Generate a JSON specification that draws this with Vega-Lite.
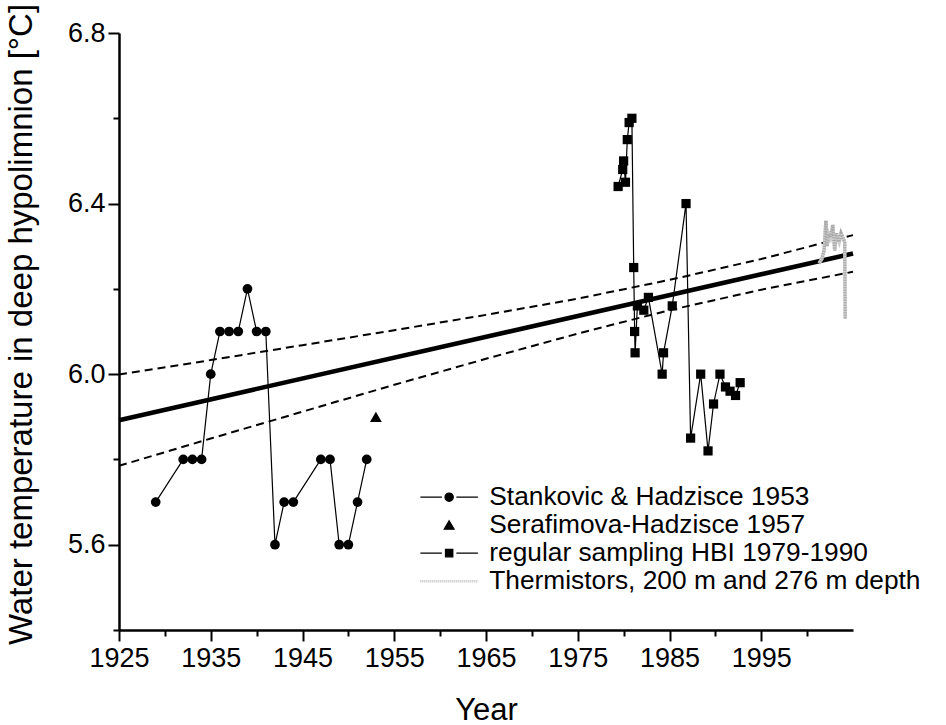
{
  "$schema": "https://vega.github.io/schema/vega-lite/v6.json",
  "width": 734,
  "height": 597,
  "autosize": {"type": "none"},
  "padding": {"left": 119, "top": 33, "right": 93, "bottom": 95},
  "background": "white",
  "config": {
    "view": {"stroke": null},
    "font": "Liberation Sans",
    "axis": {"grid": false, "domainColor": "black", "tickColor": "black", "labelColor": "black", "titleColor": "black", "titleFontWeight": "normal", "labelFont": "Liberation Sans", "titleFont": "Liberation Sans"}
  },
  "datasets": {
    "obs": [
      {"series": "Stankovic & Hadzisce 1953", "year": 1929, "temp": 5.7},
      {"series": "Stankovic & Hadzisce 1953", "year": 1932, "temp": 5.8},
      {"series": "Stankovic & Hadzisce 1953", "year": 1933, "temp": 5.8},
      {"series": "Stankovic & Hadzisce 1953", "year": 1934, "temp": 5.8},
      {"series": "Stankovic & Hadzisce 1953", "year": 1935, "temp": 6.0},
      {"series": "Stankovic & Hadzisce 1953", "year": 1936, "temp": 6.1},
      {"series": "Stankovic & Hadzisce 1953", "year": 1937, "temp": 6.1},
      {"series": "Stankovic & Hadzisce 1953", "year": 1938, "temp": 6.1},
      {"series": "Stankovic & Hadzisce 1953", "year": 1939, "temp": 6.2},
      {"series": "Stankovic & Hadzisce 1953", "year": 1940, "temp": 6.1},
      {"series": "Stankovic & Hadzisce 1953", "year": 1941, "temp": 6.1},
      {"series": "Stankovic & Hadzisce 1953", "year": 1942, "temp": 5.6},
      {"series": "Stankovic & Hadzisce 1953", "year": 1943, "temp": 5.7},
      {"series": "Stankovic & Hadzisce 1953", "year": 1944, "temp": 5.7},
      {"series": "Stankovic & Hadzisce 1953", "year": 1947, "temp": 5.8},
      {"series": "Stankovic & Hadzisce 1953", "year": 1948, "temp": 5.8},
      {"series": "Stankovic & Hadzisce 1953", "year": 1949, "temp": 5.6},
      {"series": "Stankovic & Hadzisce 1953", "year": 1950, "temp": 5.6},
      {"series": "Stankovic & Hadzisce 1953", "year": 1951, "temp": 5.7},
      {"series": "Stankovic & Hadzisce 1953", "year": 1952, "temp": 5.8},
      {"series": "Serafimova-Hadzisce 1957", "year": 1953, "temp": 5.9},
      {"series": "regular sampling HBI 1979-1990", "year": 1979.4, "temp": 6.44},
      {"series": "regular sampling HBI 1979-1990", "year": 1979.9, "temp": 6.48},
      {"series": "regular sampling HBI 1979-1990", "year": 1980.0, "temp": 6.5},
      {"series": "regular sampling HBI 1979-1990", "year": 1980.2, "temp": 6.45},
      {"series": "regular sampling HBI 1979-1990", "year": 1980.4, "temp": 6.55},
      {"series": "regular sampling HBI 1979-1990", "year": 1980.6, "temp": 6.59},
      {"series": "regular sampling HBI 1979-1990", "year": 1980.9, "temp": 6.6},
      {"series": "regular sampling HBI 1979-1990", "year": 1981.1, "temp": 6.25},
      {"series": "regular sampling HBI 1979-1990", "year": 1981.2, "temp": 6.1},
      {"series": "regular sampling HBI 1979-1990", "year": 1981.25, "temp": 6.05},
      {"series": "regular sampling HBI 1979-1990", "year": 1981.5, "temp": 6.16},
      {"series": "regular sampling HBI 1979-1990", "year": 1982.2, "temp": 6.15},
      {"series": "regular sampling HBI 1979-1990", "year": 1982.7, "temp": 6.18},
      {"series": "regular sampling HBI 1979-1990", "year": 1984.2, "temp": 6.0},
      {"series": "regular sampling HBI 1979-1990", "year": 1984.35, "temp": 6.05},
      {"series": "regular sampling HBI 1979-1990", "year": 1985.3, "temp": 6.16},
      {"series": "regular sampling HBI 1979-1990", "year": 1986.8, "temp": 6.4},
      {"series": "regular sampling HBI 1979-1990", "year": 1987.3, "temp": 5.85},
      {"series": "regular sampling HBI 1979-1990", "year": 1988.4, "temp": 6.0},
      {"series": "regular sampling HBI 1979-1990", "year": 1989.2, "temp": 5.82},
      {"series": "regular sampling HBI 1979-1990", "year": 1989.8, "temp": 5.93},
      {"series": "regular sampling HBI 1979-1990", "year": 1990.5, "temp": 6.0},
      {"series": "regular sampling HBI 1979-1990", "year": 1991.1, "temp": 5.97},
      {"series": "regular sampling HBI 1979-1990", "year": 1991.6, "temp": 5.96},
      {"series": "regular sampling HBI 1979-1990", "year": 1992.2, "temp": 5.95},
      {"series": "regular sampling HBI 1979-1990", "year": 1992.7, "temp": 5.98},
      {"series": "Thermistors, 200 m and 276 m depth", "year": 2001.3, "temp": 6.26},
      {"series": "Thermistors, 200 m and 276 m depth", "year": 2001.6, "temp": 6.27},
      {"series": "Thermistors, 200 m and 276 m depth", "year": 2001.85, "temp": 6.29},
      {"series": "Thermistors, 200 m and 276 m depth", "year": 2002.05, "temp": 6.36},
      {"series": "Thermistors, 200 m and 276 m depth", "year": 2002.15, "temp": 6.3},
      {"series": "Thermistors, 200 m and 276 m depth", "year": 2002.35, "temp": 6.33},
      {"series": "Thermistors, 200 m and 276 m depth", "year": 2002.55, "temp": 6.32},
      {"series": "Thermistors, 200 m and 276 m depth", "year": 2002.8, "temp": 6.35},
      {"series": "Thermistors, 200 m and 276 m depth", "year": 2003.0, "temp": 6.29},
      {"series": "Thermistors, 200 m and 276 m depth", "year": 2003.2, "temp": 6.33},
      {"series": "Thermistors, 200 m and 276 m depth", "year": 2003.5, "temp": 6.31},
      {"series": "Thermistors, 200 m and 276 m depth", "year": 2003.7, "temp": 6.33},
      {"series": "Thermistors, 200 m and 276 m depth", "year": 2003.9, "temp": 6.32},
      {"series": "Thermistors, 200 m and 276 m depth", "year": 2004.1, "temp": 6.31},
      {"series": "Thermistors, 200 m and 276 m depth", "year": 2004.15, "temp": 6.13}
    ],
    "fit": [
      {"curve": "fit", "year": 1925, "temp": 5.892},
      {"curve": "fit", "year": 2005, "temp": 6.283},
      {"curve": "upper", "year": 1925, "temp": 5.999},
      {"curve": "upper", "year": 1935, "temp": 6.033},
      {"curve": "upper", "year": 1945, "temp": 6.068},
      {"curve": "upper", "year": 1955, "temp": 6.103},
      {"curve": "upper", "year": 1965, "temp": 6.139},
      {"curve": "upper", "year": 1975, "temp": 6.177},
      {"curve": "upper", "year": 1985, "temp": 6.221},
      {"curve": "upper", "year": 1995, "temp": 6.27},
      {"curve": "upper", "year": 2005, "temp": 6.326},
      {"curve": "lower", "year": 1925, "temp": 5.785},
      {"curve": "lower", "year": 1935, "temp": 5.849},
      {"curve": "lower", "year": 1945, "temp": 5.912},
      {"curve": "lower", "year": 1955, "temp": 5.975},
      {"curve": "lower", "year": 1965, "temp": 6.036},
      {"curve": "lower", "year": 1975, "temp": 6.095},
      {"curve": "lower", "year": 1985, "temp": 6.15},
      {"curve": "lower", "year": 1995, "temp": 6.198},
      {"curve": "lower", "year": 2005, "temp": 6.24}
    ]
  },
  "encoding": {
    "x": {
      "field": "year",
      "type": "quantitative",
      "scale": {"domain": [1925, 2005], "nice": false, "zero": false},
      "axis": {
        "title": "Year",
        "values": [1925, 1930, 1935, 1940, 1945, 1950, 1955, 1960, 1965, 1970, 1975, 1980, 1985, 1990, 1995, 2000],
        "format": "d",
        "labelExpr": "datum.value % 10 === 5 ? datum.label : ''",
        "tickSize": {"condition": {"test": "datum.value % 10 === 5", "value": 11}, "value": 6},
        "tickWidth": 2,
        "domainWidth": 2.5,
        "labelFontSize": 27,
        "labelPadding": 4,
        "labelFlush": false,
        "labelOverlap": false,
        "titleFontSize": 31,
        "titleBaseline": "alphabetic",
        "titleY": 89
      }
    },
    "y": {
      "field": "temp",
      "type": "quantitative",
      "scale": {"domain": [5.4, 6.8], "nice": false, "zero": false},
      "axis": {
        "title": "Water temperature in deep hypolimnion [°C]",
        "values": [5.4, 5.6, 5.8, 6.0, 6.2, 6.4, 6.6, 6.8],
        "format": ".1f",
        "labelExpr": "round(datum.value * 10) % 4 === 0 ? datum.label : ''",
        "tickSize": {"condition": {"test": "round(datum.value * 10) % 4 === 0", "value": 11}, "value": 6},
        "tickWidth": 2,
        "domainWidth": 2.5,
        "labelFontSize": 27,
        "labelPadding": 3,
        "labelOverlap": false,
        "titleFontSize": 33,
        "titleBaseline": "alphabetic",
        "titleAngle": 270,
        "titleX": -88,
        "titleY": 291
      }
    }
  },
  "layer": [
    {
      "data": {"name": "fit"},
      "transform": [{"filter": "datum.curve === 'upper'"}],
      "mark": {"type": "line", "color": "black", "strokeWidth": 2, "strokeDash": [8, 5]}
    },
    {
      "data": {"name": "fit"},
      "transform": [{"filter": "datum.curve === 'lower'"}],
      "mark": {"type": "line", "color": "black", "strokeWidth": 2, "strokeDash": [8, 5]}
    },
    {
      "data": {"name": "fit"},
      "transform": [{"filter": "datum.curve === 'fit'"}],
      "mark": {"type": "line", "color": "black", "strokeWidth": 4.5}
    },
    {
      "data": {"name": "obs"},
      "transform": [{"filter": "datum.series === 'Stankovic & Hadzisce 1953'"}],
      "mark": {"type": "line", "color": "black", "strokeWidth": 1.2}
    },
    {
      "data": {"name": "obs"},
      "transform": [{"filter": "datum.series === 'Stankovic & Hadzisce 1953'"}],
      "mark": {"type": "point", "shape": "circle", "filled": true, "color": "black", "opacity": 1, "size": 95}
    },
    {
      "data": {"name": "obs"},
      "transform": [{"filter": "datum.series === 'Serafimova-Hadzisce 1957'"}],
      "mark": {"type": "point", "shape": "triangle-up", "filled": true, "color": "black", "opacity": 1, "size": 140}
    },
    {
      "data": {"name": "obs"},
      "transform": [{"filter": "datum.series === 'regular sampling HBI 1979-1990'"}],
      "mark": {"type": "line", "color": "black", "strokeWidth": 1.2}
    },
    {
      "data": {"name": "obs"},
      "transform": [{"filter": "datum.series === 'regular sampling HBI 1979-1990'"}],
      "mark": {"type": "point", "shape": "square", "filled": true, "color": "black", "opacity": 1, "size": 85}
    },
    {
      "data": {"name": "obs"},
      "transform": [{"filter": "datum.series === 'Thermistors, 200 m and 276 m depth'"}],
      "mark": {"type": "line", "color": "#cdcdcd", "strokeWidth": 3.5}
    },
    {
      "data": {"name": "obs"},
      "transform": [{"filter": "datum.series === 'Thermistors, 200 m and 276 m depth'"}],
      "mark": {"type": "line", "color": "#a8a8a8", "strokeWidth": 3.5, "strokeDash": [1, 1.5]}
    },
    {
      "data": {"name": "obs"},
      "mark": {"type": "point", "filled": true, "opacity": 0},
      "encoding": {
        "color": {
          "field": "series",
          "type": "nominal",
          "scale": {
            "domain": ["Stankovic & Hadzisce 1953", "Serafimova-Hadzisce 1957", "regular sampling HBI 1979-1990", "Thermistors, 200 m and 276 m depth"],
            "range": ["black", "black", "black", "#bdbdbd"]
          },
          "legend": {
            "title": null,
            "orient": "none",
            "legendX": 317,
            "legendY": 451,
            "padding": 0,
            "labelFontSize": 26.3,
            "labelColor": "black",
            "labelFont": "Liberation Sans",
            "labelOffset": 27,
            "labelLimit": 600,
            "rowPadding": 1,
            "symbolSize": 256,
            "symbolOpacity": 1,
            "encode": {
              "symbols": {
                "update": {
                  "fill": {"value": "black"},
                  "stroke": {"scale": "color", "field": "value"},
                  "strokeWidth": {"signal": "datum.value === 'Thermistors, 200 m and 276 m depth' ? 2.5 : 1.2"},
                  "strokeDash": {"signal": "datum.value === 'Thermistors, 200 m and 276 m depth' ? [1, 1] : []"},
                  "opacity": {"value": 1},
                  "size": {"value": 256}
                }
              }
            }
          }
        },
        "shape": {
          "field": "series",
          "type": "nominal",
          "scale": {
            "domain": ["Stankovic & Hadzisce 1953", "Serafimova-Hadzisce 1957", "regular sampling HBI 1979-1990", "Thermistors, 200 m and 276 m depth"],
            "range": [
              "M-3.6,0H-0.9M0.9,0H3.6M-0.52,0A0.52,0.52 0 1,0 0.52,0A0.52,0.52 0 1,0 -0.52,0Z",
              "M0,-0.55L0.62,0.5L-0.62,0.5Z",
              "M-3.6,0H-0.9M0.9,0H3.6M-0.46,-0.46H0.46V0.46H-0.46Z",
              "M-3.6,0H3.6"
            ]
          },
          "legend": {
            "title": null,
            "orient": "none",
            "legendX": 317,
            "legendY": 451,
            "padding": 0,
            "labelFontSize": 26.3,
            "labelColor": "black",
            "labelFont": "Liberation Sans",
            "labelOffset": 27,
            "labelLimit": 600,
            "rowPadding": 1,
            "symbolSize": 256,
            "symbolOpacity": 1,
            "encode": {
              "symbols": {
                "update": {
                  "fill": {"value": "black"},
                  "stroke": {"scale": "color", "field": "value"},
                  "strokeWidth": {"signal": "datum.value === 'Thermistors, 200 m and 276 m depth' ? 2.5 : 1.2"},
                  "strokeDash": {"signal": "datum.value === 'Thermistors, 200 m and 276 m depth' ? [1, 1] : []"},
                  "opacity": {"value": 1},
                  "size": {"value": 256}
                }
              }
            }
          }
        }
      }
    }
  ]
}
